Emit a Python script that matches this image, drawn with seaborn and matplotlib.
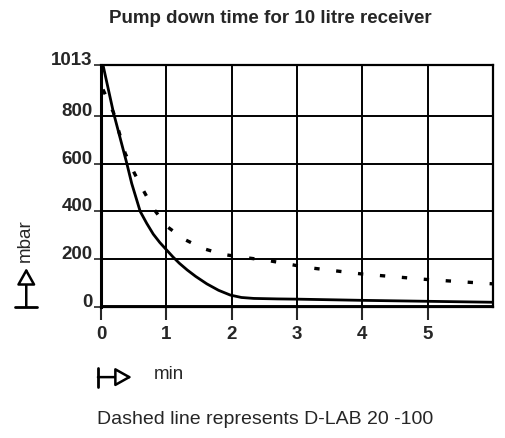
import matplotlib
matplotlib.use("Agg")
import matplotlib.pyplot as plt
from matplotlib.lines import Line2D
import seaborn as sns
import pandas as pd

# solid curve (10 litre receiver)
solid_min = [0.03, 0.19, 0.395, 0.47, 0.6, 0.7, 0.8, 0.9, 1.0, 1.1, 1.2, 1.32, 1.45, 1.62, 1.8, 1.98,
             2.15, 2.34, 2.7, 3.0, 4.0, 5.0, 6.0]
solid_mbar = [1013, 814, 601, 517, 400, 350, 305, 270, 240, 210, 183, 155, 128, 97, 70, 50,
              40, 36, 34, 33, 28, 24, 20]
# dashed curve (D-LAB 20 -100)
dash_min = [0.03, 0.19, 0.37, 0.5, 0.65, 0.8, 1.0, 1.27, 1.56, 1.87, 2.2, 2.55, 3.17, 4.0, 5.0, 6.0]
dash_mbar = [910, 814, 643, 566, 487, 413, 339, 284, 245, 220, 207, 195, 165, 138, 115, 97]

y_ticks = [0, 200, 400, 600, 800, 1013]
x_ticks = [0, 1, 2, 3, 4, 5]

sns.set_style("white")
plt.rcParams['font.family'] = ['Liberation Sans', 'DejaVu Sans']

fig = plt.figure(figsize=(5.05, 4.38), dpi=100)
ax = fig.add_axes([0.2, 0.299, 0.776, 0.553])

df_s = pd.DataFrame({'min': solid_min, 'mbar': solid_mbar})
df_d = pd.DataFrame({'min': dash_min, 'mbar': dash_mbar})

# grid
for v in y_ticks[1:-1]:
    ax.axhline(v, color='black', lw=1.4, zorder=1)
for v in x_ticks[1:]:
    ax.axvline(v, color='black', lw=1.4, zorder=1)
ax.axhline(0, color='black', lw=2.8, zorder=3)

sns.lineplot(data=df_s, x='min', y='mbar', ax=ax, color='black', lw=2.0, zorder=4)
sns.lineplot(data=df_d, x='min', y='mbar', ax=ax, color='black', lw=2.4,
             linestyle=(0, (1.6, 5.0)), zorder=4)

ax.set_xlim(0, 6)
ax.set_ylim(0, 1013)
ax.set_xticks(x_ticks)
ax.set_xticklabels([str(t) for t in x_ticks], fontsize=13.5, fontweight='bold')
ax.set_yticks(y_ticks)
ax.set_yticklabels([str(t) for t in y_ticks], fontsize=13.5, fontweight='bold')
for lab in ax.get_yticklabels():
    lab.set_va('baseline')
ax.tick_params(axis='x', direction='out', length=9, width=1.5, pad=5, bottom=True)
ax.tick_params(axis='y', direction='out', length=5, width=1.2, pad=1, left=True)
ax.set_xlabel('')
ax.set_ylabel('')
for s in ax.spines.values():
    s.set_color('black')
    s.set_linewidth(1.6)
ax.spines['left'].set_linewidth(2.2)

fig.text(0.535, 0.958, 'Pump down time for 10 litre receiver', ha='center', va='center',
         fontsize=13.5, fontweight='bold')

arrow = dict(arrowstyle='-|>,head_width=0.28,head_length=0.5', fc='white', ec='black',
             lw=1.8, shrinkA=0, shrinkB=0, mutation_scale=20)

# y axis unit with arrow symbol
fig.text(0.05, 0.45, 'mbar', rotation=90, ha='center', va='center', fontsize=13.5)
ax.annotate('', xy=(0.052, 0.388), xytext=(0.052, 0.300), xycoords='figure fraction',
            arrowprops=arrow)
fig.add_artist(Line2D([0.030, 0.073], [0.300, 0.300], color='black', lw=2.0,
                      transform=fig.transFigure))

# x axis unit with arrow symbol
fig.text(0.305, 0.144, 'min', ha='left', va='center', fontsize=13.5)
ax.annotate('', xy=(0.261, 0.139), xytext=(0.194, 0.139), xycoords='figure fraction',
            arrowprops=arrow)
fig.add_artist(Line2D([0.194, 0.194], [0.116, 0.160], color='black', lw=2.0,
                      transform=fig.transFigure))

fig.text(0.525, 0.043, 'Dashed line represents D-LAB 20 -100', ha='center', va='center',
         fontsize=14)

fig.savefig('out.png', dpi=100)
